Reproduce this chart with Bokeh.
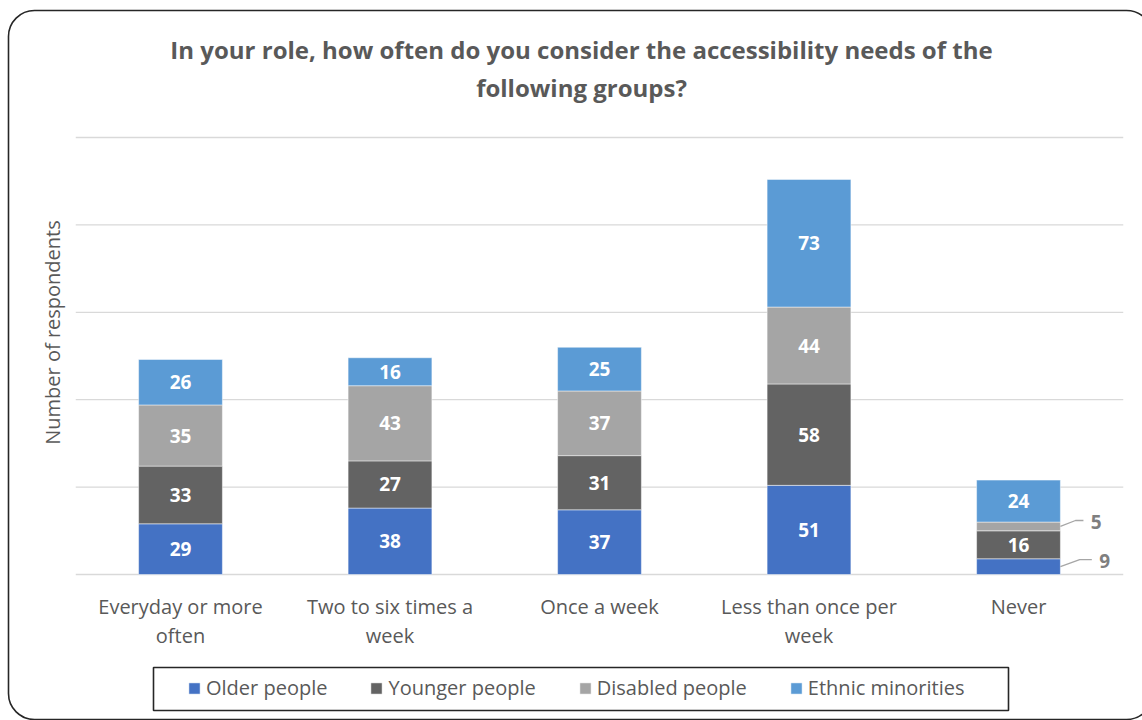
from bokeh.plotting import figure
from bokeh.models import (ColumnDataSource, Range1d, Legend, LegendItem, BoxAnnotation)
from bokeh.core.properties import value
from bokeh.embed import file_html
from bokeh.resources import INLINE

categories = ["Everyday or more often", "Two to six times a week", "Once a week",
              "Less than once per week", "Never"]
category_labels = ["Everyday or more\noften", "Two to six times a\nweek", "Once a week",
                   "Less than once per\nweek", "Never"]
series = ["Older people", "Younger people", "Disabled people", "Ethnic minorities"]
older = [29, 38, 37, 51, 9]
younger = [33, 27, 31, 58, 16]
disabled = [35, 43, 37, 44, 5]
ethnic = [26, 16, 25, 73, 24]
colors = ["#4472C4", "#636363", "#A5A5A5", "#5B9BD5"]
y_ticks = [0, 50, 100, 150, 200, 250]
title_lines = ["In your role, how often do you consider the accessibility needs of the",
               "following groups?"]
y_title = "Number of respondents"

FONT = "Open Sans"
TXT = "#595959"
W, H = 1142, 720
# plot-area geometry (pixels): category pitch, first centre, baseline, px per unit
PITCH, X_FIRST, BASE_PX, PX_PER_UNIT = 209.5, 180.0, 574.0, 437.0 / 250.0


def dx(px):  # canvas x pixel -> data x
    return (px - X_FIRST) / PITCH


def dy(py):  # canvas y pixel (from top) -> data y
    return (BASE_PX - py) / PX_PER_UNIT


keys = ["older", "younger", "disabled", "ethnic"]
pos = list(range(len(categories)))
src = ColumnDataSource(dict(x=pos, older=older, younger=younger, disabled=disabled, ethnic=ethnic))

p = figure(width=W, height=H, x_range=Range1d(dx(0), dx(W)), y_range=Range1d(dy(H), dy(0)),
           output_backend="svg", toolbar_location=None, min_border=0)
p.outline_line_color = None
p.axis.visible = False
p.grid.visible = False
p.background_fill_color = "white"
p.border_fill_color = "white"

# gridlines across the plot area
p.segment(x0=[pos[0] - 0.5] * len(y_ticks), x1=[pos[-1] + 0.5] * len(y_ticks), y0=y_ticks, y1=y_ticks,
          line_color="#D9D9D9", line_width=1.3)

renderers = p.vbar_stack(keys, x="x", width=0.4, source=src, color=colors,
                         line_color="white", line_width=0.8, line_alpha=0.6)

# segment labels
cols = {"older": older, "younger": younger, "disabled": disabled, "ethnic": ethnic}
lx, ly, lt = [], [], []
small = []
for i in pos:
    base = 0
    for k in keys:
        v = cols[k][i]
        mid = base + v / 2
        if v >= 10:
            lx.append(i); ly.append(mid); lt.append(str(v))
        else:
            small.append((i, mid, v))
        base += v
p.text(x=lx, y=ly, text=lt, text_align="center", text_baseline="middle",
       text_color="white", text_font=value(FONT), text_font_style="bold", text_font_size="19px")

# leader lines for thin segments
leader_style = {5: (0.072, 3.4, 0.11), 9: (0.092, 4.0, 0.15)}
for i, mid, v in small:
    ex, ey, hx = leader_style.get(v, (0.08, 3.7, 0.13))
    xs = [i + 0.2, i + 0.2 + ex, i + 0.2 + hx]
    ys = [mid, mid + ey, mid + ey]
    p.line(x=xs, y=ys, line_color="#A6A6A6", line_width=1.3)
    p.text(x=[i + 0.2 + hx + 0.035], y=[mid + ey - 0.6], text=[str(v)], text_align="left",
           text_baseline="middle", text_color="#7F7F7F", text_font=value(FONT),
           text_font_style="bold", text_font_size="19px")

# category labels
p.text(x=pos, y=[dy(592)] * len(pos), text=category_labels, text_align="center", text_baseline="top",
       text_color=TXT, text_font=value(FONT), text_font_size="20px", text_line_height=1.08)

# title
p.text(x=[dx(581)] * 2, y=[dy(49), dy(87)], text=title_lines, text_align="center", text_baseline="middle",
       text_color=TXT, text_font=value(FONT), text_font_style="bold", text_font_size="24px")

# y title
p.text(x=[dx(52)], y=[dy(332)], text=[y_title], angle=90, angle_units="deg", text_align="center",
       text_baseline="middle", text_color=TXT, text_font=value(FONT), text_font_size="20px")

# legend (items) and its frame
items = [LegendItem(label=s, renderers=[r]) for s, r in zip(series, renderers)]
legend = Legend(items=items, orientation="horizontal", location=(187, 19),
                label_text_font=FONT, label_text_font_size="20px", label_text_color=TXT,
                glyph_width=14, glyph_height=14, spacing=42, padding=10, margin=0,
                label_standoff=5, label_height=20,
                border_line_color=None, background_fill_alpha=0)
p.add_layout(legend, "center")
p.add_layout(BoxAnnotation(left=dx(153), right=dx(1008), top=dy(667), bottom=dy(710),
                           fill_color=None, fill_alpha=0, line_color="#262626", line_alpha=1,
                           line_width=1.6))

# rounded chart border
p.add_layout(BoxAnnotation(left=dx(8), right=dx(1152), top=dy(10), bottom=dy(719),
                           fill_color=None, fill_alpha=0, line_color="#262626", line_alpha=1,
                           line_width=1.6, border_radius=26))

open("out.html", "w").write(file_html(p, INLINE))
